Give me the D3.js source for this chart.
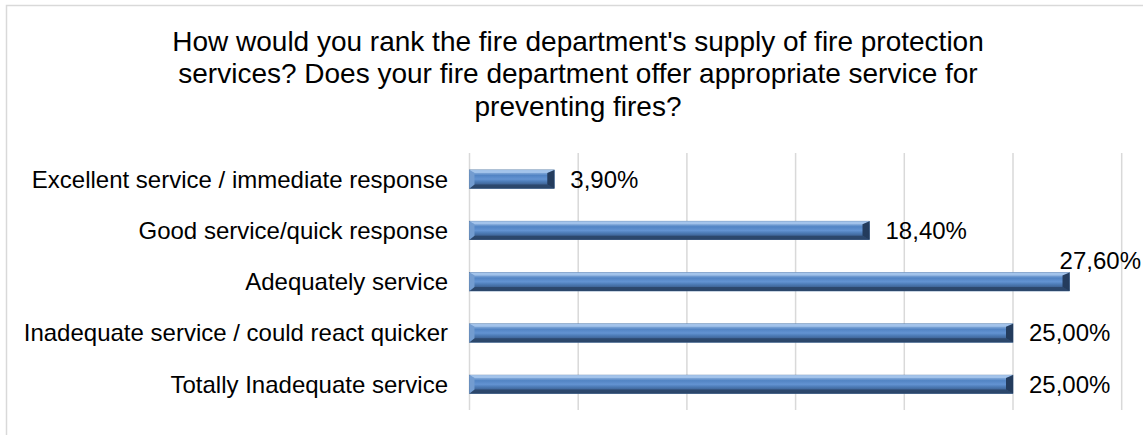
<!DOCTYPE html>
<html>
<head>
<meta charset="utf-8">
<script src="https://cdn.jsdelivr.net/npm/d3@7"></script>
<style>
  html, body { margin: 0; padding: 0; background: #fff; }
  svg { display: block; font-family: "Liberation Sans", Arial, sans-serif; }
</style>
</head>
<body>
<svg id="chart" width="1143" height="435"></svg>
<script>
// Survey answers, top to bottom
const categories = [
  "Excellent service / immediate response",
  "Good service/quick response",
  "Adequately service",
  "Inadequate service / could react quicker",
  "Totally Inadequate service"
];
const shares = [3.9, 18.4, 27.6, 25.0, 25.0];
const valueLabels = ["3,90%", "18,40%", "27,60%", "25,00%", "25,00%"];
const xTicks = [0, 5, 10, 15, 20, 25, 30];
const titleLines = [
  "How would you rank the fire department's supply of fire protection",
  "services? Does your fire department offer appropriate service for",
  "preventing fires?"
];

const svg = d3.select("#chart");
const W = 1143, H = 435;

// chart frame
svg.append("rect")
  .attr("x", 6.5).attr("y", 5.5)
  .attr("width", W + 10).attr("height", H + 10)
  .attr("fill", "#fff").attr("stroke", "#d9d9d9").attr("stroke-width", 1.5);

// title
svg.append("g").selectAll("text").data(titleLines).join("text")
  .attr("x", 578).attr("y", (d, i) => 51 + i * 32.3)
  .attr("text-anchor", "middle")
  .attr("font-size", 28).attr("fill", "#000")
  .text(d => d);

const x = d3.scaleLinear().domain([0, 30]).range([469.5, 1121.7]);
const y = d3.scaleBand().domain(categories).range([153.5, 410]).paddingInner(0.64).paddingOuter(0.32);

// vertical gridlines
svg.append("g").selectAll("line").data(xTicks).join("line")
  .attr("x1", d => x(d)).attr("x2", d => x(d))
  .attr("y1", 153).attr("y2", 410)
  .attr("stroke", "#d9d9d9").attr("stroke-width", 1.5);

// bevelled bar fill
const defs = svg.append("defs");
const grad = defs.append("linearGradient").attr("id", "barFill")
  .attr("x1", 0).attr("y1", 0).attr("x2", 0).attr("y2", 1);
[[0, "#9ec0ea"], [0.18, "#7aa3d6"], [0.3, "#5284c4"], [0.5, "#6393d2"], [0.62, "#4f7eba"], [0.8, "#3d6293"], [1, "#2f4c72"]]
  .forEach(([o, c]) => grad.append("stop").attr("offset", o).attr("stop-color", c));

const bars = svg.append("g").selectAll("g").data(categories).join("g");
const bh = y.bandwidth();
const bevL = 5, bevR = 7;

bars.append("rect")
  .attr("x", x(0)).attr("y", d => y(d))
  .attr("width", (d, i) => x(shares[i]) - x(0)).attr("height", bh)
  .attr("fill", "url(#barFill)")
  .attr("stroke", "#3f6797").attr("stroke-width", 0.6);

// top and bottom bevel strips
bars.append("polygon")
  .attr("points", (d, i) => {
    const x0 = x(0), x1 = x(shares[i]), t = y(d);
    return [[x0, t], [x1, t], [x1 - bevR, t + 3], [x0 + bevL, t + 3]].join(" ");
  })
  .attr("fill", "#a9c8ee").attr("opacity", 0.8);
bars.append("polygon")
  .attr("points", (d, i) => {
    const x0 = x(0), x1 = x(shares[i]), b = y(d) + bh;
    return [[x0, b], [x1, b], [x1 - bevR, b - 4], [x0 + bevL, b - 4]].join(" ");
  })
  .attr("fill", "#2a4467").attr("opacity", 0.85);
// left end (lit) and right end (shaded)
bars.append("polygon")
  .attr("points", (d) => {
    const x0 = x(0), t = y(d);
    return [[x0, t], [x0 + bevL, t + 3], [x0 + bevL, t + bh - 4], [x0, t + bh]].join(" ");
  })
  .attr("fill", "#739cd0");
bars.append("polygon")
  .attr("points", (d, i) => {
    const x1 = x(shares[i]), t = y(d);
    return [[x1, t], [x1 - bevR, t + 3], [x1 - bevR, t + bh - 4], [x1, t + bh]].join(" ");
  })
  .attr("fill", "#243c5d");

// category labels
svg.append("g").selectAll("text").data(categories).join("text")
  .attr("x", 448).attr("y", d => y(d) + bh / 2)
  .attr("dy", "0.35em").attr("text-anchor", "end")
  .attr("font-size", 24).attr("fill", "#000")
  .text(d => d);

// value labels; the widest one sits above its bar so it stays in frame
const maxShare = d3.max(shares);
svg.append("g").selectAll("text").data(categories).join("text")
  .attr("x", (d, i) => shares[i] === maxShare ? 1141 : x(shares[i]) + 16)
  .attr("y", (d, i) => y(d) + bh / 2 + (shares[i] === maxShare ? -21 : 0))
  .attr("dy", "0.35em")
  .attr("text-anchor", (d, i) => shares[i] === maxShare ? "end" : "start")
  .attr("font-size", 24).attr("fill", "#000")
  .text((d, i) => valueLabels[i]);
</script>
</body>
</html>
